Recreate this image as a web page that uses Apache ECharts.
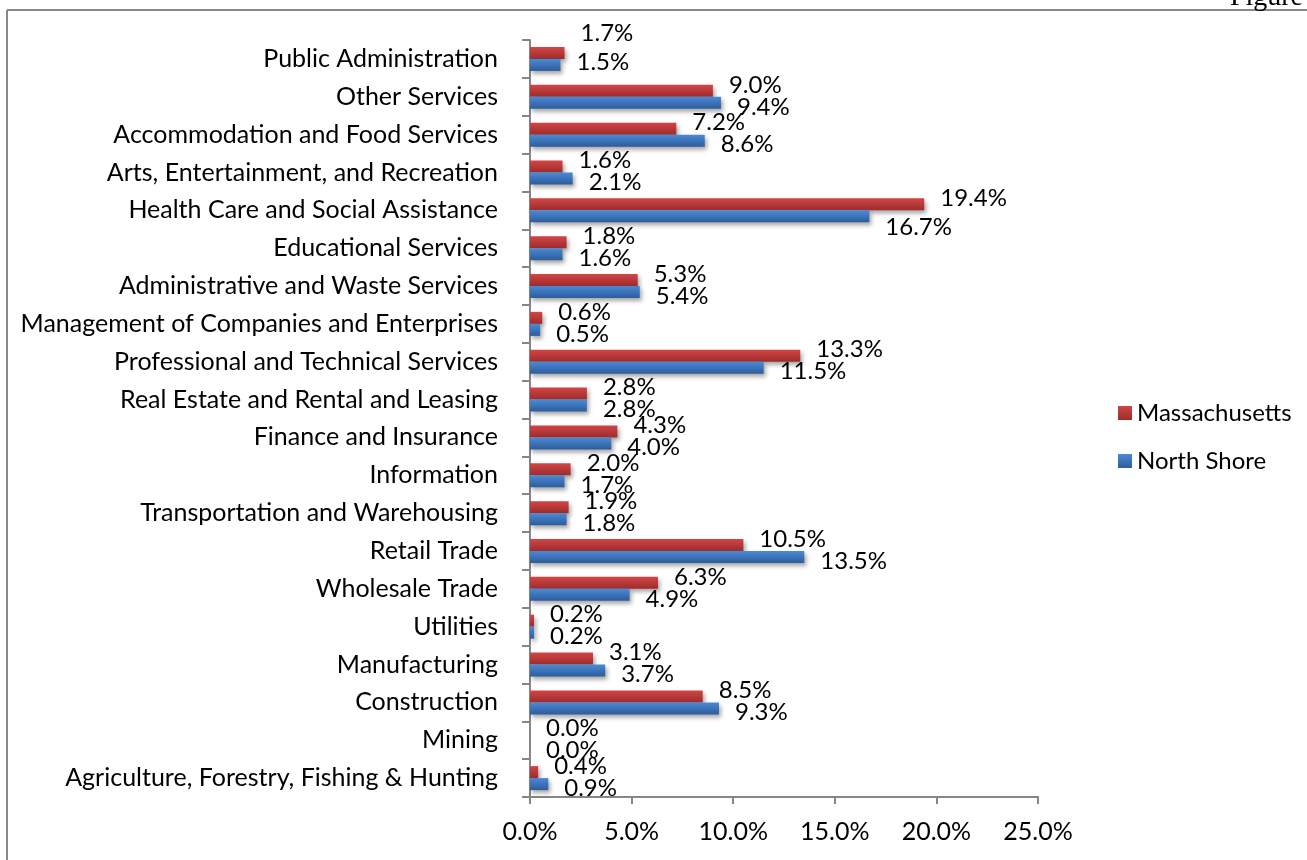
<!DOCTYPE html>
<html>
<head>
<meta charset="utf-8">
<script src="https://cdn.jsdelivr.net/npm/echarts@6/dist/echarts.min.js"></script>
<style>html,body{margin:0;padding:0;background:#fff;}#c{width:1307px;height:860px;}</style>
</head>
<body>
<div id="c"></div>
<script>
// Categories listed top to bottom as in the picture
var categories = [
  'Public Administration',
  'Other Services',
  'Accommodation and Food Services',
  'Arts, Entertainment, and Recreation',
  'Health Care and Social Assistance',
  'Educational Services',
  'Administrative and Waste Services',
  'Management of Companies and Enterprises',
  'Professional and Technical Services',
  'Real Estate and Rental and Leasing',
  'Finance and Insurance',
  'Information',
  'Transportation and Warehousing',
  'Retail Trade',
  'Wholesale Trade',
  'Utilities',
  'Manufacturing',
  'Construction',
  'Mining',
  'Agriculture, Forestry, Fishing & Hunting'
];
var massachusetts = [1.7, 9.0, 7.2, 1.6, 19.4, 1.8, 5.3, 0.6, 13.3, 2.8, 4.3, 2.0, 1.9, 10.5, 6.3, 0.2, 3.1, 8.5, 0.0, 0.4];
var northShore    = [1.5, 9.4, 8.6, 2.1, 16.7, 1.6, 5.4, 0.5, 11.5, 2.8, 4.0, 1.7, 1.8, 13.5, 4.9, 0.2, 3.7, 9.3, 0.0, 0.9];
var xTicks = [0, 5, 10, 15, 20, 25];
var seriesNames = ['Massachusetts', 'North Shore'];

var FONT = 'Lato';
function grad(top, bottom) {
  return new echarts.graphic.LinearGradient(0, 0, 0, 1, [
    {offset: 0, color: top}, {offset: 1, color: bottom}
  ]);
}
var fmt = function (p) { return p.value.toFixed(1) + '%'; };

// label placement tweaks (style only) keyed by category index
var massLabelDy = {0: -20};
var nsLabelDy = {0: -3, 4: 11};
function withLabelTweaks(values, dyMap) {
  return values.map(function (v, i) {
    if (dyMap[i] === undefined) return v;
    return {value: v, label: {offset: [0, dyMap[i]]}};
  });
}

var chart = echarts.init(document.getElementById('c'));
chart.setOption({
  animation: false,
  backgroundColor: '#fff',
  textStyle: {fontFamily: FONT},
  grid: {left: 530, right: 269, top: 40, bottom: 63, containLabel: false},
  legend: {
    orient: 'vertical', left: 1113, top: 396,
    itemWidth: 14, itemHeight: 14, itemGap: 24,
    icon: 'rect',
    textStyle: {fontSize: 24, color: '#000', fontFamily: FONT},
    data: seriesNames
  },
  xAxis: {
    type: 'value', min: xTicks[0], max: xTicks[xTicks.length - 1], interval: 5,
    axisLine: {show: true, lineStyle: {color: '#868686', width: 2}},
    axisTick: {show: true, length: 7, lineStyle: {color: '#868686', width: 2}},
    splitLine: {show: false},
    axisLabel: {fontSize: 25, color: '#000', margin: 22, fontFamily: FONT,
      formatter: function (v) { return v.toFixed(1) + '%'; }}
  },
  yAxis: {
    type: 'category', data: categories, inverse: true,
    axisLine: {show: true, lineStyle: {color: '#868686', width: 2}},
    axisTick: {show: true, length: 8, lineStyle: {color: '#868686', width: 2}},
    axisLabel: {fontSize: 25, color: '#000', margin: 32, fontFamily: FONT}
  },
  series: [
    {
      name: seriesNames[0], type: 'bar', data: withLabelTweaks(massachusetts, massLabelDy),
      barWidth: 12, barGap: '0%',
      itemStyle: {color: grad('#D24646', '#9E2B2B'),
        shadowColor: 'rgba(0,0,0,0.35)', shadowBlur: 4, shadowOffsetX: 2, shadowOffsetY: 3},
      label: {show: true, position: 'right', distance: 16, offset: [0, -6],
        fontSize: 24, color: '#000', fontFamily: FONT, formatter: fmt}
    },
    {
      name: seriesNames[1], type: 'bar', data: withLabelTweaks(northShore, nsLabelDy),
      barWidth: 12, barGap: '0%',
      itemStyle: {color: grad('#4B8AD6', '#2D5C9C'),
        shadowColor: 'rgba(0,0,0,0.35)', shadowBlur: 4, shadowOffsetX: 2, shadowOffsetY: 3},
      label: {show: true, position: 'right', distance: 16, offset: [0, 4],
        fontSize: 24, color: '#000', fontFamily: FONT, formatter: fmt}
    }
  ],
  graphic: [
    {type: 'line', shape: {x1: 7, y1: 10, x2: 1307, y2: 10}, style: {stroke: '#888', lineWidth: 2}},
    {type: 'line', shape: {x1: 7, y1: 10, x2: 7, y2: 860}, style: {stroke: '#888', lineWidth: 2}},
    {type: 'text', right: 4, top: -16, style: {text: 'Figure', fontSize: 28, fill: '#000', fontFamily: 'Liberation Serif'}}
  ]
});
</script>
</body>
</html>
